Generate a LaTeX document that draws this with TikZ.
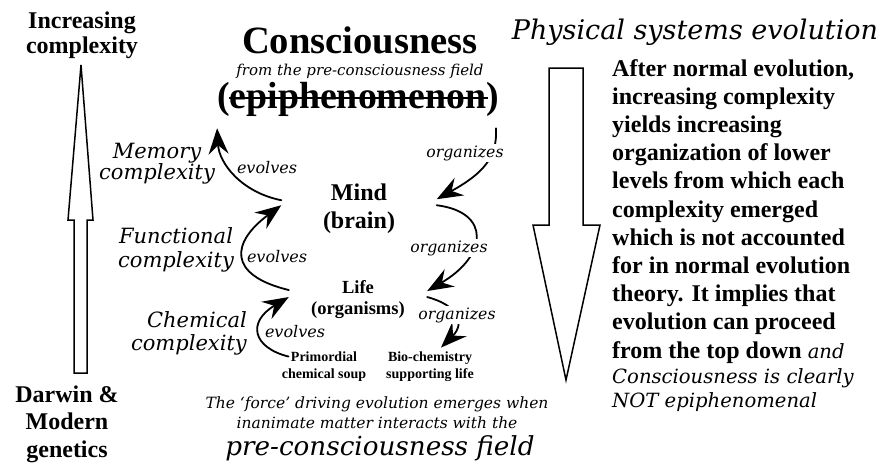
\documentclass[tikz,border=0pt]{standalone}
\usepackage{fontspec}
\setmainfont{Liberation Serif}
\newfontfamily\callig{DejaVu Serif}
\usetikzlibrary{arrows.meta,positioning}

\tikzset{
  boldlbl/.style 2 args={font=\bfseries\fontsize{#1}{#2}\selectfont,align=center,inner sep=0pt,anchor=base},
  calllbl/.style 2 args={font=\callig\itshape\fontsize{#1}{#2}\selectfont,align=center,inner sep=0pt,anchor=base},
  orglbl/.style={calllbl={15.7}{17},fill=white,inner sep=1.5pt},
  evolbl/.style={calllbl={16}{17}},
  conn/.style={line width=1.8pt,-{Stealth[length=26pt,width=20pt,inset=9pt]}},
  hollow/.style={draw,line width=1.5pt,fill=white,line join=miter}
}

\begin{document}
\begin{tikzpicture}[x=1pt,y=-1pt,line cap=round,line join=round]
\path[use as bounding box,fill=white] (0,0) rectangle (883,466);
% big hollow arrows
\draw[hollow] (74,373) -- (74,220) -- (68,220) -- (81,65) -- (93,220) -- (87,220) -- (87,373) -- cycle;
\draw[hollow] (549,68) -- (583,68) -- (583,225) -- (600,225) -- (566,380) -- (533,225) -- (549,225) -- cycle;
% side texts (base = last line)
\node[boldlbl={24}{25}] (incr) at (82,53) {Increasing\\complexity};
\node[boldlbl={24}{27.5}] (darwin) at (67,457) {Darwin \&\\Modern\\genetics};
\node[calllbl={27}{30}] (phys) at (695,39) {Physical systems evolution};
\node[boldlbl={24}{28.2},align=left,anchor=base west] (para) at (612,358)
  {After normal evolution,\\increasing complexity\\yields increasing\\organization of lower\\levels from which each\\complexity emerged\\which is not accounted\\for in normal evolution\\theory. It implies that\\evolution can proceed\\from the top down {\callig\itshape\mdseries\fontsize{19.6}{28.2}\selectfont and}};
\node[calllbl={19.6}{23.5},align=left,anchor=base west] (concl) at (612,407) {Consciousness is clearly\\NOT epiphenomenal};
% levels
\node[boldlbl={38.6}{40}] (cons) at (360,53) {Consciousness};
\node[calllbl={15}{17}] (field) at (360,75.5) {from the pre-consciousness field};
\node[boldlbl={37.8}{40},inner ysep=12pt] (epi) at (358,108) {(epiphenomenon)};
\draw[line width=1.6pt,line cap=butt] ([xshift=12pt,yshift=10pt]epi.base west) -- ([xshift=-11pt,yshift=10pt]epi.base east);
\node[boldlbl={24}{28},minimum width=155pt] (mind) at (359,228) {Mind\\(brain)};
\node[boldlbl={18.5}{21},minimum width=138pt] (life) at (358,314) {Life\\(organisms)};
\node[boldlbl={14}{16.5}] (soup) at (324,378) {Primordial\\chemical soup};
\node[boldlbl={14}{16.5}] (bio) at (430,378) {Bio-chemistry\\supporting life};
% complexity labels
\node[calllbl={21}{21}] (mem) at (157,179) {Memory\\complexity};
\node[calllbl={21}{24}] (func) at (176,267) {Functional\\complexity};
\node[calllbl={21}{23},align=right,anchor=base east] (chem) at (247,350) {Chemical\\complexity};
% evolves
\draw[conn] ([yshift=8pt]mind.west) .. controls +(-40,-8) and +(2,35) .. (epi.south west);
\draw[conn] ([yshift=9pt]life.west) .. controls +(-62,-15) and +(-50,37) .. ([yshift=3pt]mind.west);
\draw[conn] ([xshift=7pt,yshift=-5pt]soup.north west) .. controls +(-36,-9) and +(-42,25) .. ([yshift=2pt]life.west);
\node[evolbl] (evo1) at (267,173) {evolves};
\node[evolbl] (evo2) at (277,262) {evolves};
\node[evolbl] (evo3) at (295,337) {evolves};
% organizes
\draw[conn] ([xshift=-3pt]epi.south east) .. controls +(2,30) and +(45,-25) .. ([yshift=9pt]mind.east);
\draw[conn] ([yshift=3pt]mind.east) .. controls +(55,7) and +(60,-35) .. ([yshift=8pt]life.east);
\draw[conn] ([yshift=2pt]life.east) .. controls +(30,8) and +(25,-25) .. ([xshift=11pt,yshift=4pt]bio.north);
\node[orglbl] (org1) at (465,157) {organizes};
\node[orglbl] (org2) at (449,252) {organizes};
\node[orglbl] (org3) at (457,319) {organizes};
% bottom
\node[calllbl={15.5}{20}] (force) at (377,428) {The ‘force’ driving evolution emerges when\\inanimate matter interacts with the};
\node[calllbl={26.2}{28}] (pcf) at (380,455) {pre-consciousness field};
\end{tikzpicture}
\end{document}
